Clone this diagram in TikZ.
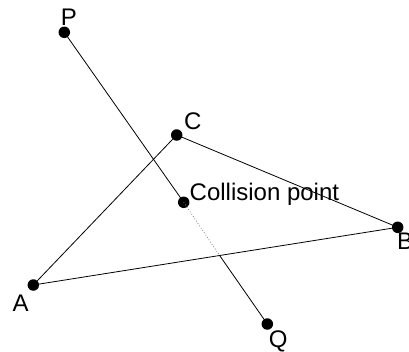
\documentclass[tikz,border=0pt]{standalone}
\usepackage{fontspec}
\setmainfont{Liberation Sans}
\usetikzlibrary{intersections}
\begin{document}
\begin{tikzpicture}[x=1pt,y=-1pt,
  dot/.style={circle,fill=black,inner sep=0pt,minimum size=11.5pt},
  lbl/.style={inner sep=0pt,anchor=base,font=\fontsize{24}{28}\selectfont},
  edge/.style={line width=0.8pt,black},
  hidden/.style={line width=0.8pt,gray,dash pattern=on 0.8pt off 2pt}]
\useasboundingbox (0,0) rectangle (409,351);
\node[dot] (P) at (64.3,32.3) {};
\node[dot] (C) at (176.7,135) {};
\node[dot] (K) at (183.7,202.3) {};
\node[dot] (B) at (397.7,227.3) {};
\node[dot] (A) at (33.3,285) {};
\node[dot] (Q) at (267.3,324) {};
\node[lbl] (lP) at (69,25.6) {P};
\node[lbl] (lC) at (192.7,129.3) {C};
\node[lbl,anchor=base west] (lK) at (189.5,200) {Collision point};
\node[lbl] (lB) at (405,249) {B};
\node[lbl] (lA) at (20.7,311.3) {A};
\node[lbl] (lQ) at (278.3,347) {Q};
\path[name path=pq] (P.center) -- (Q.center);
\path[name path=ab] (A.center) -- (B.center);
\path[name intersections={of=pq and ab,by=X}];
\draw[edge] (A.center) -- (C.center) -- (B.center) -- (A.center);
\draw[edge] (P.center) -- (K.center);
\draw[hidden] (K.center) -- (X);
\draw[edge] (X) -- (Q.center);
\end{tikzpicture}
\end{document}
